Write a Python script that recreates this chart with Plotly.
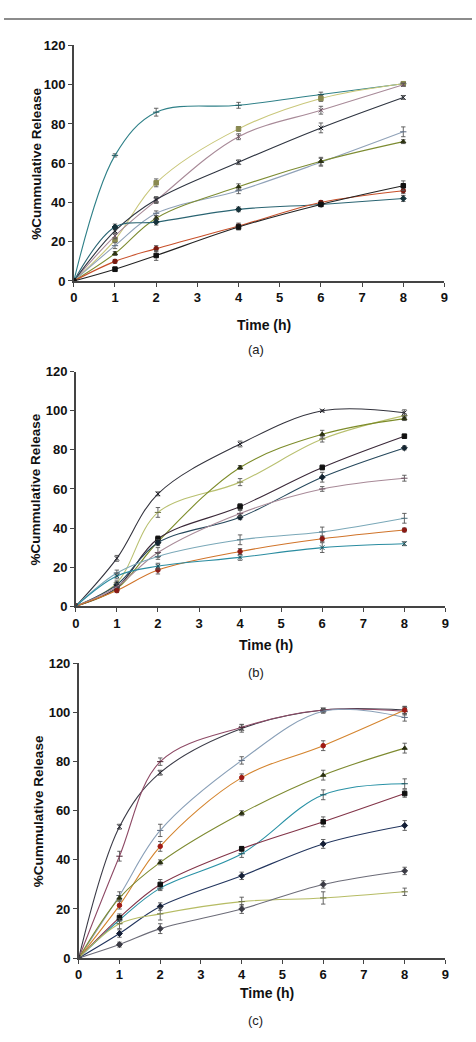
import plotly.graph_objects as go

W, H = 476, 1042

time_h = [0, 1, 2, 4, 6, 8]
x_tick_vals = [0, 1, 2, 3, 4, 5, 6, 7, 8, 9]
y_tick_vals = [0, 20, 40, 60, 80, 100, 120]
panel_labels = ["(a)", "(b)", "(c)"]
x_title = "Time (h)"
y_title = "%Cummulative Release"

# ---- Panel (a) ----
a1 = [0, 64, 86, 89.5, 95, 100.5]
a1_err = [0, 0.8, 2.0, 1.5, 1.2, 0.8]
a2 = [0, 21, 50, 77.5, 93, 100.5]
a2_err = [0, 1.0, 2.0, 1.2, 1.5, 0.8]
a3 = [0, 23, 41, 73.5, 87, 100]
a3_err = [0, 1.5, 1.5, 1.5, 2.0, 0.8]
a4 = [0, 25.5, 41.5, 60.5, 78, 93.5]
a4_err = [0, 1.5, 1.5, 1.2, 2.5, 1.0]
a5 = [0, 18, 34.5, 46, 60.5, 76]
a5_err = [0, 1.5, 1.2, 1.5, 2.0, 2.5]
a6 = [0, 14, 32, 48, 61, 71]
a6_err = [0, 1.0, 1.2, 1.5, 2.0, 1.0]
a7 = [0, 27.5, 30, 36.5, 39, 42]
a7_err = [0, 1.5, 1.5, 1.2, 1.0, 1.5]
a8 = [0, 10, 16.5, 28, 40, 46]
a8_err = [0, 1.0, 1.5, 1.5, 1.0, 1.5]
a9 = [0, 6, 13, 27.5, 39, 48.5]
a9_err = [0, 1.2, 2.5, 1.5, 1.0, 2.5]

# ---- Panel (b) ----
b1 = [0, 24.5, 57.5, 83, 100, 99]
b1_err = [0, 1.5, 1.0, 1.5, 0.5, 1.5]
b2 = [0, 12, 48, 63.5, 85.5, 97.5]
b2_err = [0, 1.0, 2.5, 1.8, 1.5, 1.0]
b3 = [0, 9, 33, 71, 88, 96]
b3_err = [0, 1.0, 1.5, 1.0, 2.0, 1.0]
b4 = [0, 9.5, 34.5, 51, 71, 87]
b4_err = [0, 1.0, 1.5, 1.5, 1.2, 1.0]
b5 = [0, 11, 32.5, 45.5, 66, 81]
b5_err = [0, 1.5, 1.5, 1.2, 2.5, 1.0]
b6 = [0, 10, 27.5, 47.5, 60, 65.5]
b6_err = [0, 1.5, 2.5, 1.5, 1.2, 1.5]
b7 = [0, 17, 25.5, 34, 38, 45]
b7_err = [0, 1.5, 1.5, 2.5, 2.5, 2.5]
b8 = [0, 8, 18.5, 28, 34.5, 39]
b8_err = [0, 1.0, 2.0, 1.5, 1.5, 1.0]
b9 = [0, 15.5, 20.5, 25, 30, 32]
b9_err = [0, 1.5, 1.5, 1.5, 2.5, 1.0]

# ---- Panel (c) ----
c1 = [0, 53.5, 75.5, 93.5, 101, 101]
c1_err = [0, 1.0, 1.0, 1.5, 0.8, 1.5]
c2 = [0, 41.5, 80, 94, 101, 100.5]
c2_err = [0, 2.0, 1.5, 1.2, 0.8, 1.5]
c3 = [0, 25.5, 52, 80.5, 100.5, 98]
c3_err = [0, 1.5, 2.5, 1.5, 0.8, 1.5]
c4 = [0, 21.5, 45.5, 73.5, 86.5, 101]
c4_err = [0, 1.5, 2.0, 1.5, 2.0, 1.5]
c5 = [0, 24.5, 39, 59, 74.5, 85.5]
c5_err = [0, 1.0, 1.0, 1.0, 2.0, 2.0]
c6 = [0, 15.5, 28.5, 42.5, 66.5, 71]
c6_err = [0, 1.5, 1.0, 1.5, 2.0, 2.0]
c7 = [0, 16.5, 30, 44.5, 55.5, 67]
c7_err = [0, 1.5, 2.0, 1.0, 2.0, 1.5]
c8 = [0, 10, 21, 33.5, 46.5, 54]
c8_err = [0, 1.5, 1.5, 1.5, 1.8, 2.0]
c9 = [0, 14, 18, 23, 24.5, 27]
c9_err = [0, 2.0, 2.5, 1.8, 2.5, 1.5]
c10 = [0, 5.5, 12, 20, 30, 35.5]
c10_err = [0, 1.0, 2.0, 1.8, 1.5, 1.5]

# styles: (line colour, marker colour, marker symbol)
panel_a = [
    (a1, a1_err, "#2f8088", "#1f5a60", "line-ew-open"),
    (a2, a2_err, "#c9c77a", "#8a8a50", "square"),
    (a3, a3_err, "#a88a98", "#6a5060", "x-thin-open"),
    (a4, a4_err, "#2e3440", "#1a1e26", "x-thin-open"),
    (a5, a5_err, "#90a2b8", "#5a6a80", "line-ew-open"),
    (a6, a6_err, "#7d8c32", "#2a3010", "triangle-up"),
    (a7, a7_err, "#2a6472", "#16323a", "diamond"),
    (a8, a8_err, "#c8502a", "#7a1a10", "circle"),
    (a9, a9_err, "#222222", "#111111", "square"),
]
panel_b = [
    (b1, b1_err, "#33333d", "#22222a", "x-thin-open"),
    (b2, b2_err, "#b9c070", "#6a7040", "line-ew-open"),
    (b3, b3_err, "#7d8c2a", "#2a3010", "triangle-up"),
    (b4, b4_err, "#3a2838", "#111111", "square"),
    (b5, b5_err, "#26485c", "#142430", "diamond"),
    (b6, b6_err, "#a88a98", "#6a5060", "line-ew-open"),
    (b7, b7_err, "#7aa8b8", "#4a6a78", "line-ew-open"),
    (b8, b8_err, "#d0742a", "#8a1a14", "circle"),
    (b9, b9_err, "#2a8ca0", "#16505a", "x-thin-open"),
]
panel_c = [
    (c1, c1_err, "#3c3c48", "#22222a", "x-thin-open"),
    (c2, c2_err, "#8e4a66", "#4a2030", "line-ew-open"),
    (c3, c3_err, "#8aa0b8", "#5a6a80", "line-ew-open"),
    (c4, c4_err, "#d4842e", "#a01a14", "circle"),
    (c5, c5_err, "#7d8a30", "#2a3010", "triangle-up"),
    (c6, c6_err, "#2a92a6", "#16505a", "line-ew-open"),
    (c7, c7_err, "#823448", "#111111", "square"),
    (c8, c8_err, "#22355e", "#141e36", "diamond"),
    (c9, c9_err, "#b6bc64", "#6a7040", "line-ew-open"),
    (c10, c10_err, "#6c6c78", "#3a3a44", "diamond"),
]

# plot-area boxes in pixels: (left, right, bottom(y=0), top(y=120))
boxes = [(71, 448, 278, 39), (73, 449, 608, 370), (76, 449, 965, 666)]
xtitle_y = [323, 647, 1000]
label_y = [347, 675, 1028]
ytitle_x = [33, 33, 35]

fig = go.Figure()
panels = [panel_a, panel_b, panel_c]
FONT = "Liberation Sans, Arial, sans-serif"
axis_font = dict(family=FONT, size=13, color="#111111")

for i, (series, box) in enumerate(zip(panels, boxes)):
    n = "" if i == 0 else str(i + 1)
    xa, ya = "x" + n, "y" + n
    for vals, errs, lc, mc, sym in series:
        fig.add_trace(go.Scatter(
            x=time_h, y=vals, xaxis=xa, yaxis=ya, mode="lines+markers",
            line=dict(color=lc, width=1.1, shape="spline", smoothing=1.0),
            marker=dict(color=mc, symbol=sym, size=4.5, line=dict(color=mc, width=1)),
            error_y=dict(type="data", array=errs, visible=True, color="#555555",
                         thickness=0.9, width=2.2),
            showlegend=False, hoverinfo="x+y",
        ))
    l, r, b, t = box
    xdom = [l / W, r / W]
    ydom = [1 - b / H, 1 - t / H]
    fig.update_layout(**{
        "xaxis" + n: dict(domain=xdom, range=[0, 9], tickvals=x_tick_vals,
                          ticktext=["<b>%d</b>" % v for v in x_tick_vals],
                          showline=True, linecolor="#444444", linewidth=1.5,
                          ticks="outside", ticklen=4, tickcolor="#444444",
                          showgrid=False, zeroline=False, anchor=ya,
                          tickfont=axis_font, fixedrange=True),
        "yaxis" + n: dict(domain=ydom, range=[0, 120], tickvals=y_tick_vals,
                          ticktext=["<b>%d</b>" % v for v in y_tick_vals],
                          showline=True, linecolor="#444444", linewidth=1.5,
                          ticks="outside", ticklen=4, tickcolor="#444444",
                          showgrid=False, zeroline=False, anchor=xa,
                          tickfont=axis_font, fixedrange=True),
    })
    fig.add_annotation(x=((l + r) / 2 + 5) / W,
                       y=1 - xtitle_y[i] / H, xref="paper", yref="paper",
                       text="<b>%s</b>" % x_title, showarrow=False,
                       font=dict(family=FONT, size=14, color="#111111"),
                       xanchor="center", yanchor="middle")
    fig.add_annotation(x=ytitle_x[i] / W, y=1 - ((b + t) / 2) / H, xref="paper", yref="paper",
                       text="<b>%s</b>" % y_title, showarrow=False, textangle=-90,
                       font=dict(family=FONT, size=13.5, color="#111111"),
                       xanchor="center", yanchor="middle")
    fig.add_annotation(x=256 / W, y=1 - label_y[i] / H, xref="paper", yref="paper",
                       text=panel_labels[i], showarrow=False,
                       font=dict(family=FONT, size=13, color="#222222"),
                       xanchor="center", yanchor="middle")

fig.add_shape(type="line", xref="paper", yref="paper", x0=0, x1=1,
              y0=1 - 12.3 / H, y1=1 - 12.3 / H, line=dict(color="#666666", width=1.5))

fig.update_layout(width=W, height=H, margin=dict(l=0, r=0, t=0, b=0),
                  paper_bgcolor="white", plot_bgcolor="white")

fig.write_html("out.html", config={"displayModeBar": False})
